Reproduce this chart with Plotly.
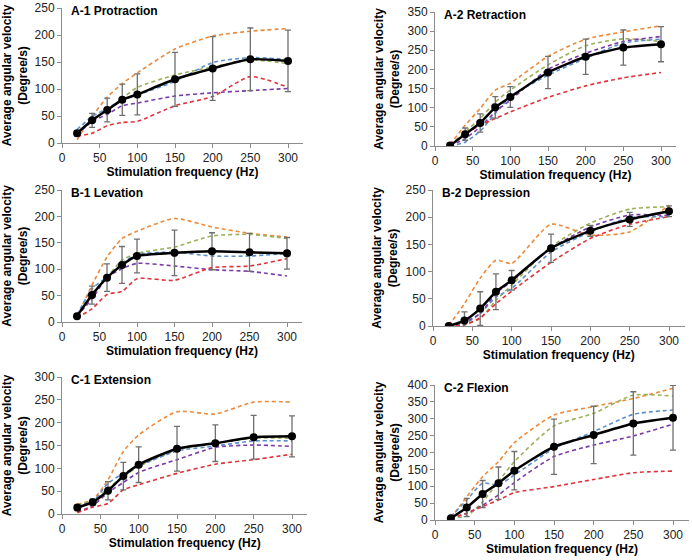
import plotly.graph_objects as go

W, H = 692, 560

# Stimulation frequencies (Hz)
freq = [20, 40, 60, 80, 100, 150, 200, 250, 300]

# A-1 Protraction
a1_mean = [18, 42, 61, 80, 90, 118, 138, 155, 152]
a1_err = [5, 13, 22, 29, 38, 50, 59, 58, 57]
a1_orange = [6, 49, 85, 110, 130, 174, 198, 207, 212]
a1_green = [18, 43, 61, 83, 103, 126, 141, 154, 147]
a1_blue = [25, 49, 64, 80, 89, 114, 149, 158, 155]
a1_purple = [15, 40, 53, 69, 74, 87, 93, 97, 101]
a1_red = [13, 18, 32, 38, 40, 69, 86, 123, 103]

# A-2 Retraction
a2_mean = [1, 31, 60, 101, 128, 192, 233, 257, 266]
a2_err = [2, 16, 24, 28, 27, 42, 46, 46, 46]
a2_orange = [4, 54, 98, 146, 164, 234, 279, 298, 314]
a2_green = [3, 37, 72, 115, 146, 212, 262, 280, 273]
a2_blue = [0, 10, 39, 85, 129, 185, 229, 269, 279]
a2_purple = [1, 19, 50, 89, 120, 200, 242, 273, 286]
a2_red = [1, 32, 54, 72, 89, 127, 157, 178, 192]

# B-1 Levation
b1_mean = [11, 51, 84, 108, 125, 131, 134, 132, 130]
b1_err = [3, 17, 26, 35, 32, 43, 35, 36, 30]
b1_orange = [9, 70, 123, 158, 172, 196, 180, 168, 161]
b1_green = [11, 54, 85, 117, 130, 142, 163, 166, 158]
b1_blue = [13, 63, 85, 111, 128, 132, 125, 125, 130]
b1_purple = [11, 44, 84, 101, 111, 106, 99, 96, 87]
b1_red = [8, 25, 52, 58, 82, 79, 103, 106, 120]

# B-2 Depression
b2_mean = [0, 10, 32, 63, 84, 143, 175, 196, 211]
b2_err = [1, 16, 31, 33, 18, 26, 10, 13, 10]
b2_orange = [1, 41, 88, 121, 115, 187, 167, 173, 222]
b2_green = [0, 2, 14, 47, 75, 146, 189, 215, 219]
b2_blue = [0, 4, 23, 53, 69, 136, 173, 199, 201]
b2_purple = [0, 7, 23, 60, 82, 143, 182, 204, 203]
b2_red = [0, 2, 15, 41, 64, 117, 161, 187, 201]

# C-1 Extension
c1_mean = [14, 26, 51, 83, 108, 143, 155, 168, 170]
c1_err = [5, 7, 20, 30, 39, 49, 40, 48, 45]
c1_orange = [22, 31, 75, 137, 173, 224, 219, 245, 245]
c1_green = [20, 29, 56, 82, 104, 140, 155, 166, 166]
c1_blue = [18, 27, 67, 89, 105, 138, 149, 160, 160]
c1_purple = [5, 18, 47, 69, 91, 119, 146, 151, 148]
c1_red = [3, 15, 23, 53, 64, 89, 109, 119, 131]

# C-2 Flexion
c2_mean = [5, 37, 77, 109, 146, 217, 252, 286, 303]
c2_err = [3, 27, 40, 48, 57, 82, 85, 94, 96]
c2_orange = [5, 69, 128, 173, 229, 311, 336, 360, 390]
c2_green = [7, 12, 54, 114, 173, 279, 316, 370, 367]
c2_blue = [10, 59, 109, 104, 133, 212, 262, 313, 326]
c2_purple = [5, 20, 44, 74, 111, 188, 222, 249, 284]
c2_red = [5, 20, 40, 59, 81, 99, 120, 140, 145]

colors = {"orange": "#EC8A3A", "green": "#9BB05A", "blue": "#5A8FCB",
          "purple": "#7A3BA8", "red": "#E0333A"}

# title, mean, err, individual lines, y max, pixel box (x0, x at 300, y top, y bottom)
panels = [
    ("A-1 Protraction", a1_mean, a1_err,
     [a1_orange, a1_green, a1_blue, a1_purple, a1_red], 250, (62, 288, 8, 143)),
    ("A-2 Retraction", a2_mean, a2_err,
     [a2_orange, a2_green, a2_blue, a2_purple, a2_red], 350, (435, 661, 12, 146)),
    ("B-1 Levation", b1_mean, b1_err,
     [b1_orange, b1_green, b1_blue, b1_purple, b1_red], 250, (62, 287, 190, 322)),
    ("B-2 Depression", b2_mean, b2_err,
     [b2_orange, b2_green, b2_blue, b2_purple, b2_red], 250, (433, 669, 190, 326)),
    ("C-1 Extension", c1_mean, c1_err,
     [c1_orange, c1_green, c1_blue, c1_purple, c1_red], 300, (62, 292, 377, 514)),
    ("C-2 Flexion", c2_mean, c2_err,
     [c2_orange, c2_green, c2_blue, c2_purple, c2_red], 400, (435, 673, 385, 520)),
]

FONT = "Liberation Sans, Arial, sans-serif"
fig = go.Figure()
layout = {}
annotations = []

for i, (title, mean, err, lines, ymax, box) in enumerate(panels):
    n = "" if i == 0 else str(i + 1)
    x0, x300, ytop, ybot = box
    x1 = x0 + (x300 - x0) * 320 / 300
    xa, ya = "x" + n, "y" + n

    for key, vals in zip(["orange", "green", "blue", "purple", "red"], lines):
        fig.add_trace(go.Scatter(
            x=freq, y=vals, xaxis=xa, yaxis=ya, mode="lines",
            line=dict(color=colors[key], width=1.6, dash="4px,3px", shape="spline", smoothing=0.6),
            showlegend=False, hoverinfo="skip"))

    fig.add_trace(go.Scatter(
        x=freq, y=mean, xaxis=xa, yaxis=ya, mode="lines+markers",
        line=dict(color="black", width=2.5, shape="spline", smoothing=0.6),
        marker=dict(color="black", size=8),
        error_y=dict(type="data", array=err, color="#6f6f6f", thickness=1.3, width=3),
        showlegend=False))

    axis_common = dict(showline=True, linecolor="#8c8c8c", linewidth=1, showgrid=False,
                       zeroline=False, ticks="outside", ticklen=4, tickcolor="#8c8c8c",
                       automargin=False,
                       tickfont=dict(family=FONT, size=12, color="#222"))
    layout["xaxis" + n] = dict(
        axis_common, domain=[x0 / W, x1 / W], range=[0, 320], dtick=50, tick0=0,
        anchor=ya,
        title=dict(text="<b>Stimulation frequency (Hz)</b>", standoff=3,
                   font=dict(family=FONT, size=12, color="black")))
    layout["yaxis" + n] = dict(
        axis_common, domain=[1 - ybot / H, 1 - ytop / H], range=[0, ymax], dtick=50,
        anchor=xa,
        title=dict(text="<b>Average angular velocity<br>(Degree/s)</b>", standoff=5,
                   font=dict(family=FONT, size=12, color="black")))
    annotations.append(dict(
        text="<b>" + title + "</b>", x=(x0 + 7) / W, y=1 - (ytop + 3) / H,
        xref="paper", yref="paper", xanchor="left", yanchor="middle", showarrow=False,
        font=dict(family=FONT, size=12, color="black")))

fig.update_layout(
    **layout,
    annotations=annotations,
    width=W, height=H,
    margin=dict(l=0, r=0, t=0, b=0),
    plot_bgcolor="white", paper_bgcolor="white",
)

# drop the browser's default 8px body margin so the figure fills the window
fig.write_html("out.html", config={"displayModeBar": False},
               post_script="document.body.style.margin = '0px';")
